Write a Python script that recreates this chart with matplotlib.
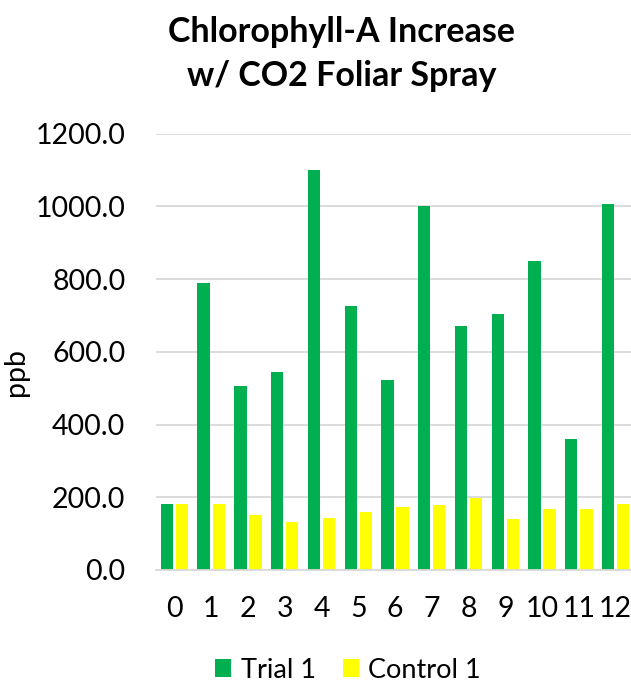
import matplotlib
matplotlib.use("Agg")
import matplotlib.pyplot as plt
import numpy as np

categories = ["0", "1", "2", "3", "4", "5", "6", "7", "8", "9", "10", "11", "12"]
trial_1 = [181, 788, 506, 544, 1099, 725, 521, 1000, 670, 703, 849, 361, 1005]
control_1 = [181, 182, 150, 133, 142, 159, 172, 178, 199, 139, 168, 169, 182]
yticks = [0, 200, 400, 600, 800, 1000, 1200]

plt.rcParams['font.family'] = ['Lato', 'DejaVu Sans']

fig = plt.figure(figsize=(6.31, 6.82), dpi=100)
ax = fig.add_axes([156 / 631, 1 - 570 / 682, (634 - 156) / 631, (570 - 133.5) / 682])

x = np.arange(len(categories))
w = 0.335
off = 0.205
ax.bar(x - off, trial_1, width=w, color="#00B050", label="Trial 1", zorder=3)
ax.bar(x + off, control_1, width=w, color="#FFFF00", label="Control 1", zorder=3)

ax.set_xlim(-0.5, 12.5)
ax.set_ylim(0, 1200)
ax.set_yticks(yticks)
ax.set_yticklabels([f"{v:.1f}" for v in yticks])
ax.set_xticks(x)
ax.set_xticklabels(categories)
ax.tick_params(axis="both", length=0, labelsize=20.5, colors="black")
ax.tick_params(axis="y", pad=22)
ax.tick_params(axis="x", pad=19)
ax.grid(axis="y", color="#D9D9D9", linewidth=1.3, zorder=0)
for s in ["top", "right", "left"]:
    ax.spines[s].set_visible(False)
ax.spines["bottom"].set_color("#D9D9D9")
ax.spines["bottom"].set_linewidth(1.3)
ax.spines["bottom"].set_zorder(4)

ax.set_ylabel("ppb", fontsize=20.5)
ax.yaxis.set_label_coords((29 - 156) / 478, (570 - 372) / 436.5)

fig.text(342 / 631, 1 - 54 / 682, "Chlorophyll-A Increase\nw/ CO2 Foliar Spray",
         ha="center", va="center", fontsize=24.5, fontweight="bold", linespacing=1.45)

fig.legend(loc="center", bbox_to_anchor=(348 / 631, 1 - 670 / 682), ncol=2,
           frameon=False, fontsize=19.5, handlelength=0.6, handleheight=0.6,
           handletextpad=0.35, columnspacing=1.0)

fig.savefig("out.png", dpi=100)
